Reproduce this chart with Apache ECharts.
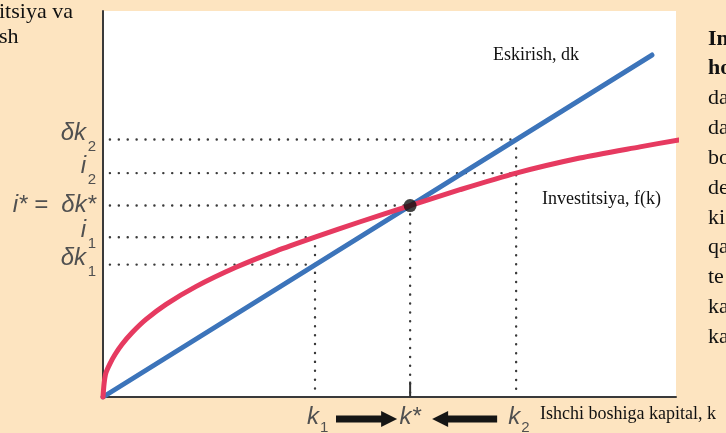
<!DOCTYPE html>
<html>
<head>
<meta charset="utf-8">
<script src="https://cdn.jsdelivr.net/npm/echarts@6/dist/echarts.min.js"></script>
<style>
  html, body { margin: 0; padding: 0; background: #fde4c0; }
  #chart { width: 726px; height: 433px; }
</style>
</head>
<body>
<div id="chart"></div>
<script>
// Capital per worker: k1, k*, k2
const kValues = [37.0, 53.6, 72.1];
const kNames = ['1', '*', '2'];

// Depreciation line δk (straight through the origin)
const depreciation = [[0, 0], [95.8, 88.6]];

// Investment curve f(k)
const investment = [
  [0, 0], [0.2, 3.6], [0.5, 6.2], [1.2, 8.6], [2.1, 11.0], [3.3, 13.6],
  [5.1, 16.7], [7.5, 20.1], [11.0, 24.0], [16.2, 28.6], [23.2, 33.6],
  [30.2, 37.8], [37.0, 41.4], [44.9, 45.4], [53.6, 49.6], [62.3, 53.7],
  [72.1, 58.0], [83.2, 61.9], [93.7, 64.8], [100.5, 66.6]
];

// Levels on the vertical axis (δk2, i2, i*, i1, δk1) and the k each guide runs to
const levelValues = [66.7, 58.0, 49.6, 41.4, 34.3];
const levelToK = [2, 2, 1, 0, 0];           // index into kValues
const verticalTops = [41.4, 49.6, 66.7];    // top of each dotted drop line

// Steady state point
const steadyState = [[53.6, 49.6]];

const chart = echarts.init(document.getElementById('chart'));

const dotted = { color: '#3a3a3a', width: 2.4, type: [0.1, 8.8], cap: 'round' };

const guideSeries = [];
levelValues.forEach((v, i) => {
  guideSeries.push({
    type: 'line', data: [[1.2, v], [kValues[levelToK[i]], v]],
    symbol: 'none', lineStyle: dotted, silent: true, z: 1
  });
});
kValues.forEach((k, i) => {
  guideSeries.push({
    type: 'line', data: [[k, verticalTops[i]], [k, 0.8]],
    symbol: 'none', lineStyle: dotted, silent: true, z: 1
  });
});
// solid tick marking k*
guideSeries.push({
  type: 'line', data: [[kValues[1], 0], [kValues[1], 4]],
  symbol: 'none', lineStyle: { color: '#333', width: 2 }, silent: true, z: 1
});

chart.setOption({
  animation: false,
  backgroundColor: '#fde4c0',
  grid: { left: 103, right: 50, top: 11, bottom: 36, show: true, backgroundColor: '#ffffff', borderWidth: 0 },
  xAxis: {
    type: 'value', min: 0, max: 100,
    axisLine: { show: true, onZero: false, lineStyle: { color: '#3a3a3a', width: 2 } },
    axisTick: { show: false }, axisLabel: { show: false }, splitLine: { show: false }
  },
  yAxis: {
    type: 'value', min: 0, max: 100,
    axisLine: { show: true, onZero: false, lineStyle: { color: '#3a3a3a', width: 2 } },
    axisTick: { show: false }, axisLabel: { show: false }, splitLine: { show: false }
  },
  series: guideSeries.concat([
    {
      name: 'Eskirish, dk', type: 'line', data: depreciation, symbol: 'none',
      lineStyle: { color: '#3c74ba', width: 5, cap: 'round' }, z: 3
    },
    {
      name: 'Investitsiya, f(k)', type: 'line', data: investment, symbol: 'none',
      smooth: 0.25, clip: false,
      lineStyle: { color: '#e63a60', width: 5, cap: 'round', join: 'round' }, z: 4
    },
    {
      type: 'scatter', data: steadyState, symbol: 'circle', symbolSize: 13,
      itemStyle: { color: '#111' }, z: 6
    }
  ])
});

// Text and arrows placed through the grid's own coordinate system
const px = (x, y) => chart.convertToPixel({ gridIndex: 0 }, [x, y]);
const sans = '"Liberation Sans", Arial, sans-serif';
const serif = '"Liberation Serif", "Times New Roman", serif';
const labelColor = '#505050';
const mainFont = 'italic 24px ' + sans;
const subFont = '15px ' + sans;
const graphics = [];

function addText(x, y, text, opts) {
  graphics.push({
    type: 'text', x: x, y: y, silent: true,
    style: Object.assign({ text: text, fill: '#111', font: '18px ' + serif, textAlign: 'left', textVerticalAlign: 'middle' }, opts || {})
  });
}

// Vertical-axis labels
const rightEdge = 96;
const yMain = (lvl) => px(0, lvl)[1];
// δk2
addText(rightEdge - 10, yMain(levelValues[0]) - 6, 'δk', { textAlign: 'right', font: mainFont, fill: labelColor });
addText(rightEdge, yMain(levelValues[0]) + 7, '2', { textAlign: 'right', font: subFont, fill: labelColor });
// i2
addText(rightEdge - 10, yMain(levelValues[1]) - 7, 'i', { textAlign: 'right', font: mainFont, fill: labelColor });
addText(rightEdge, yMain(levelValues[1]) + 7, '2', { textAlign: 'right', font: subFont, fill: labelColor });
// i* = δk*
addText(rightEdge, yMain(levelValues[2]), 'i* =  δk*', { textAlign: 'right', font: mainFont, fill: labelColor });
// i1
addText(rightEdge - 10, yMain(levelValues[3]) - 7, 'i', { textAlign: 'right', font: mainFont, fill: labelColor });
addText(rightEdge, yMain(levelValues[3]) + 7, '1', { textAlign: 'right', font: subFont, fill: labelColor });
// δk1
addText(rightEdge - 10, yMain(levelValues[4]) - 6, 'δk', { textAlign: 'right', font: mainFont, fill: labelColor });
addText(rightEdge, yMain(levelValues[4]) + 7, '1', { textAlign: 'right', font: subFont, fill: labelColor });

// Horizontal-axis labels
const axisY = px(0, 0)[1];
kValues.forEach((k, i) => {
  const x = px(k, 0)[0];
  if (kNames[i] === '*') {
    addText(x, axisY + 20, 'k*', { textAlign: 'center', font: mainFont, fill: labelColor });
  } else {
    addText(x + 4, axisY + 20, 'k', { textAlign: 'right', font: mainFont, fill: labelColor });
    addText(x + 5, axisY + 31, kNames[i], { textAlign: 'left', font: subFont, fill: labelColor });
  }
});

// Arrows showing convergence toward k*
function arrow(x0, x1, y) {
  const dir = x1 > x0 ? 1 : -1;
  const headLen = 16, shaft = 3.5, head = 8;
  const xb = x1 - dir * headLen;
  graphics.push({
    type: 'polygon', silent: true,
    shape: { points: [[x0, y - shaft], [xb, y - shaft], [xb, y - head], [x1, y], [xb, y + head], [xb, y + shaft], [x0, y + shaft]] },
    style: { fill: '#151515' }
  });
}
const xk1 = px(kValues[0], 0)[0], xks = px(kValues[1], 0)[0], xk2 = px(kValues[2], 0)[0];
arrow(xk1 + 21, xks - 13, axisY + 22);
arrow(xk2 - 19, xks + 22, axisY + 22);

// Curve names and axis title
addText(493, 55, 'Eskirish, dk', { font: '18px ' + serif });
addText(542, 199, 'Investitsiya, f(k)', { font: '18px ' + serif });
addText(540, 414, 'Ishchi boshiga kapital, k', { font: '18px ' + serif });

// Surrounding page text
addText(-1, 12, 'itsiya va', { font: '22px ' + serif });
addText(-1, 37, 'sh', { font: '22px ' + serif });
const sideText = ['In', 'ho', 'da', 'da', 'bo', 'de', 'ki', 'qa', 'te', 'ka', 'ka'];
sideText.forEach((t, i) => {
  addText(708, 39 + i * 29.8, t, { font: (i < 2 ? 'bold ' : '') + '22px ' + serif });
});

chart.setOption({ graphic: graphics });
</script>
</body>
</html>
